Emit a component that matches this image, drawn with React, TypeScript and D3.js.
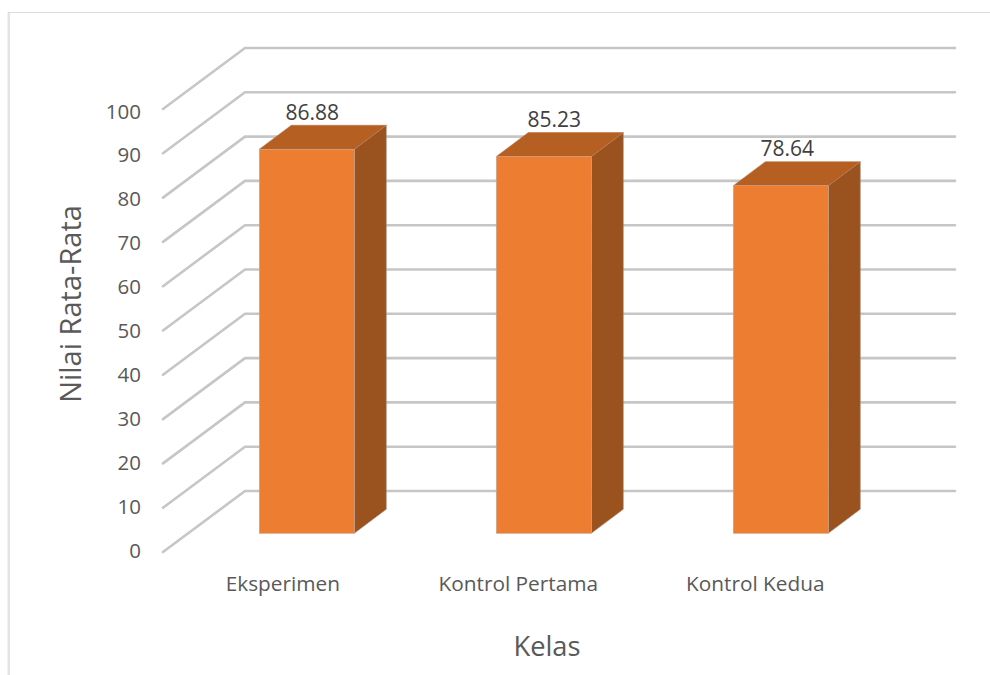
import React from "react";
import * as d3 from "d3";

const categories = ["Eksperimen", "Kontrol Pertama", "Kontrol Kedua"];
const values = [86.88, 85.23, 78.64];
const valueLabels = ["86.88", "85.23", "78.64"];
const ticks = [0, 10, 20, 30, 40, 50, 60, 70, 80, 90, 100];
const yTitle = "Nilai Rata-Rata";
const xTitle = "Kelas";

const WIDTH = 990;
const HEIGHT = 675;
const FONT = "'Open Sans', 'Noto Sans', sans-serif";

// Back wall and front edge of the floor share one value scale, offset by the depth.
const backY = d3.scaleLinear().domain([0, 100]).range([491, 48]);
const frontY = d3.scaleLinear().domain([0, 100]).range([552, 109]);
const tickBaseline = d3.scaleLinear().domain([0, 100]).range([557.5, 118.5]);
const barY = d3.scaleLinear().domain([0, 100]).range([533.3, 91.3]);
const barX = d3
  .scaleBand<string>()
  .domain(categories)
  .range([188.3, 899.3])
  .paddingInner(142 / 237)
  .paddingOuter(71 / 237);

const WALL_LEFT = 245;
const WALL_RIGHT = 955;
const FRONT_LEFT = 163;
const BAR_DX = 32;
const BAR_DY = 24;
// Horizontal nudges of the labels relative to each bar's centre.
const VALUE_SHIFT = [5.5, 10.5, 6.5];
const CATEGORY_SHIFT = [-24, -25.5, -25.5];

const points = (pts: [number, number][]) => pts.map((p) => p.join(",")).join(" ");

export default function App() {
  const bw = barX.bandwidth();
  return (
    <svg
      width={WIDTH}
      height={HEIGHT}
      viewBox={`0 0 ${WIDTH} ${HEIGHT}`}
      style={{ position: "absolute", left: 0, top: 0, background: "#fff" }}
      fontFamily={FONT}
    >
      <path d="M990 12.5H8.5V675" fill="none" stroke="#dcdcdc" strokeWidth={1.2} />
      <line x1={8.8} x2={8.8} y1={13} y2={675} stroke="#e4e4e4" strokeWidth={2.4} />

      {ticks.map((t) => (
        <g key={t}>
          <polyline
            points={points([
              [FRONT_LEFT, frontY(t)],
              [WALL_LEFT, backY(t)],
              [WALL_RIGHT, backY(t)],
            ])}
            fill="none"
            stroke="#c6c6c6"
            strokeWidth={2.6}
            strokeLinecap="round"
            strokeLinejoin="round"
          />
          <text x={141} y={tickBaseline(t)} textAnchor="end" fontSize={20.5} fill="#595959">
            {t}
          </text>
        </g>
      ))}

      {categories.map((c, i) => {
        const x0 = barX(c)!;
        const x1 = x0 + bw;
        const top = barY(values[i]);
        const bottom = barY(0);
        return (
          <g key={c}>
            <polygon
              points={points([
                [x1, top],
                [x1 + BAR_DX, top - BAR_DY],
                [x1 + BAR_DX, bottom - BAR_DY],
                [x1, bottom],
              ])}
              fill="#9a521e"
              stroke="#a98f7c"
              strokeWidth={0.6}
            />
            <polygon
              points={points([
                [x0, top],
                [x0 + BAR_DX, top - BAR_DY],
                [x1 + BAR_DX, top - BAR_DY],
                [x1, top],
              ])}
              fill="#b65f22"
              stroke="#b8764a"
              strokeWidth={0.6}
            />
            <rect x={x0} y={top} width={bw} height={bottom - top} fill="#ed7d31" stroke="#c9a78e" strokeWidth={0.6} />
            <text x={x0 + bw / 2 + VALUE_SHIFT[i]} y={top - 29.5} textAnchor="middle" fontSize={21} fill="#404040">
              {valueLabels[i]}
            </text>
            <text x={x0 + bw / 2 + CATEGORY_SHIFT[i]} y={590.5} textAnchor="middle" fontSize={20.8} fill="#595959">
              {c}
            </text>
          </g>
        );
      })}

      <text transform="translate(81,304) rotate(-90)" textAnchor="middle" fontSize={29} fill="#595959">
        {yTitle}
      </text>
      <text x={547} y={656} textAnchor="middle" fontSize={27.3} fill="#595959">
        {xTitle}
      </text>
    </svg>
  );
}
